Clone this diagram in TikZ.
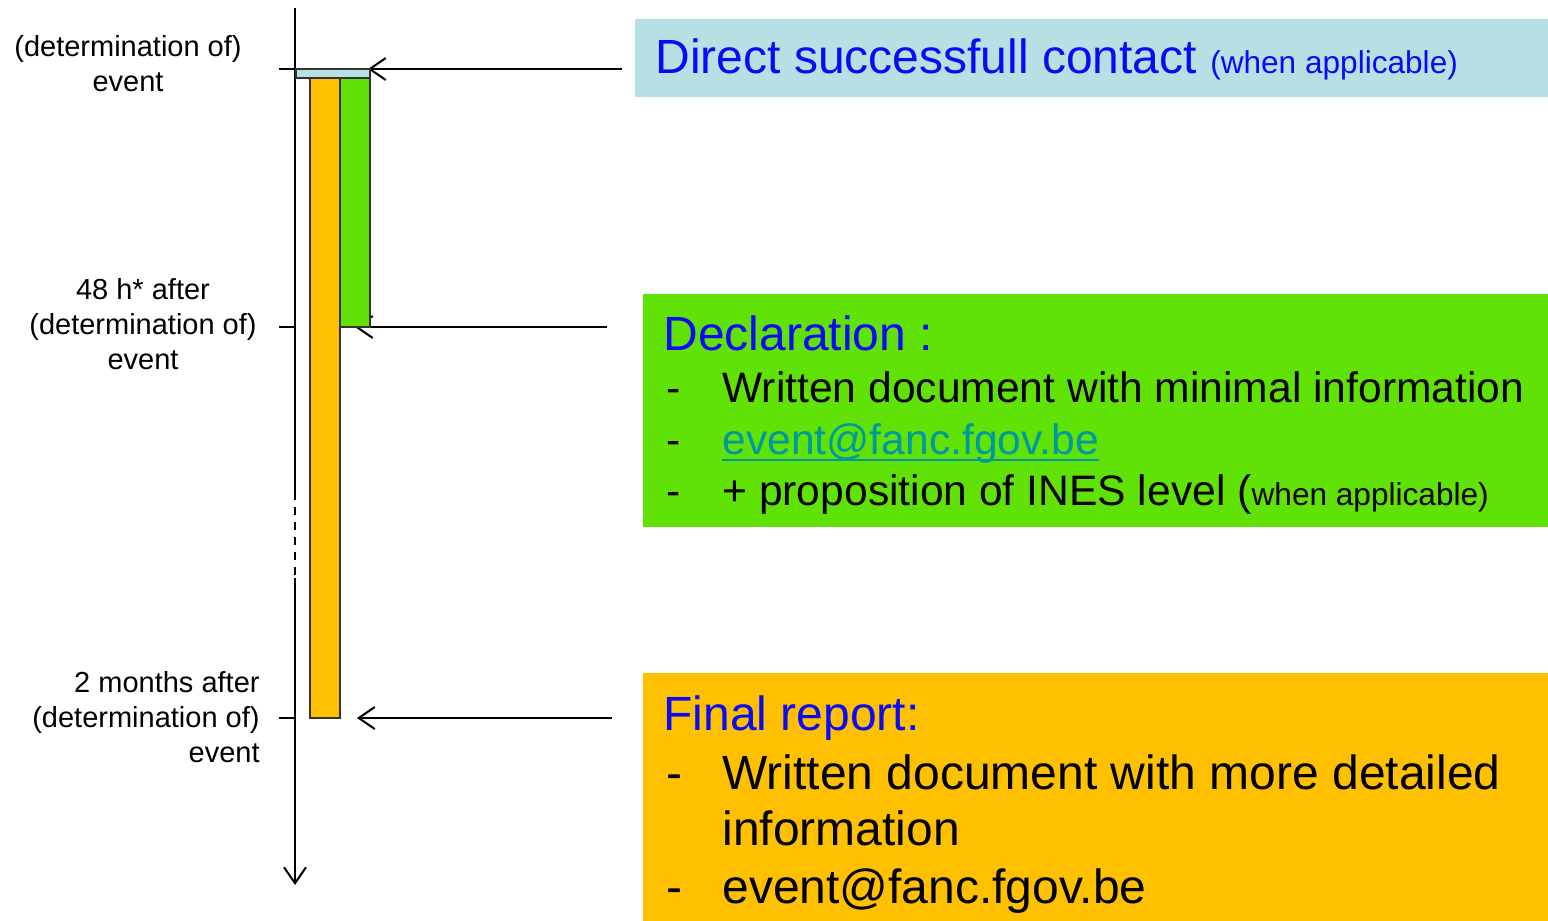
\documentclass[tikz,border=0pt]{standalone}
\usepackage{fontspec}
\setmainfont{Liberation Sans}
\usetikzlibrary{arrows.meta}
\definecolor{contactblue}{RGB}{184,223,228}
\definecolor{declgreen}{RGB}{96,226,6}
\definecolor{reportorange}{RGB}{255,192,0}
\definecolor{headblue}{RGB}{10,10,245}
\definecolor{maillink}{RGB}{0,153,160}
\newcommand{\fsz}[2]{\fontsize{#1}{#2}\selectfont}

\begin{document}
\begin{tikzpicture}[x=0.5pt,y=-0.5pt,
    axis/.style={line width=1pt},
    openarrow/.style={line width=1pt,-{Straight Barb[length=8pt,width=11pt]}},
    bar/.style={draw=black!80,line width=0.7pt},
    stagebox/.style={anchor=north west,inner sep=0pt,minimum width=452.5pt},
    when/.style={align=center,inner sep=0pt,font=\fsz{14.5pt}{17.5pt}},
    head/.style={anchor=base west,inner sep=0pt,text=headblue,font=\fsz{24pt}{28pt}},
    itemdash/.style={anchor=base west,inner sep=0pt},
    item/.style={anchor=base west,inner sep=0pt}]
    \useasboundingbox (0,0) rectangle (1548,921);

    % time axis
    \coordinate (top) at (295,8);
    \coordinate (gapstart) at (295,492);
    \coordinate (gapend) at (295,578);
    \coordinate (bottom) at (295,885);
    \draw[axis] (top) -- (gapstart);
    \draw[axis,dash pattern=on 4pt off 3.5pt] (gapstart) -- (gapend);
    \draw[openarrow] (gapend) -- (bottom);
    \foreach \y in {69,327,718}
        \draw[axis] (279,\y) -- (295,\y);

    % left labels
    \node[when] (t0) at (128,64) {(determination of)\\event};
    \node[when] (t48) at (143,324) {48 h* after\\(determination of)\\event};
    \node[when,align=right,anchor=east] (t2m) at (260,717) {2 months after\\(determination of)\\event};

    % boxes
    \node[stagebox,minimum width=456.5pt,minimum height=39pt,fill=contactblue] (contact) at (635,19) {};
    \node[stagebox,minimum height=116.5pt,fill=declgreen] (decl) at (643,294) {};
    \node[stagebox,minimum height=124pt,fill=reportorange] (report) at (643,673) {};

    % arrows from the boxes
    \coordinate (c0) at (622,69);
    \coordinate (c1) at (368,69);
    \coordinate (d0) at (607,327);
    \coordinate (d1) at (355,327);
    \coordinate (r0) at (612,718);
    \coordinate (r1) at (357,718);
    \draw[openarrow] (c0) -- (c1);
    \draw[openarrow] (d0) -- (d1);
    \draw[openarrow] (r0) -- (r1);

    % bars
    \draw[bar,fill=contactblue] (296,69) rectangle (370,78);
    \draw[bar,fill=reportorange] (310,78) rectangle (340,718);
    \draw[bar,fill=declgreen] (340,78) rectangle (370,327);

    % direct contact
    \node[head] (contacttxt) at (655,73) {Direct successfull contact {\fsz{15.8pt}{18pt}(when applicable)}};

    % declaration
    \node[head] (decltxt) at (663,350) {Declaration :};
    \begin{scope}[font=\fsz{21.3pt}{25pt}]
    \node[itemdash] (dd1) at (666,402) {-};
    \node[item] (di1) at (722,402) {Written document with minimal information};
    \node[itemdash] (dd2) at (666,454) {-};
    \node[item,text=maillink] (di2) at (722,454) {event@fanc.fgov.be};
    \draw[maillink,line width=1.1pt] ([yshift=-3pt]di2.base west) -- ([yshift=-3pt]di2.base east);
    \node[itemdash] (dd3) at (666,505) {-};
    \node[item] (di3) at (722,505) {+ proposition of INES level ({\fsz{15.8pt}{18pt}when applicable)}};
    \end{scope}

    % final report
    \node[head] (reporttxt) at (663,730) {Final report:};
    \begin{scope}[font=\fsz{24pt}{28pt}]
    \node[itemdash] (rd1) at (666,789) {-};
    \node[item] (ri1) at (722,789) {Written document with more detailed};
    \node[item] (ri1b) at (722,845) {information};
    \node[itemdash] (rd2) at (666,903) {-};
    \node[item] (ri2) at (722,903) {event@fanc.fgov.be};
    \end{scope}
\end{tikzpicture}
\end{document}
